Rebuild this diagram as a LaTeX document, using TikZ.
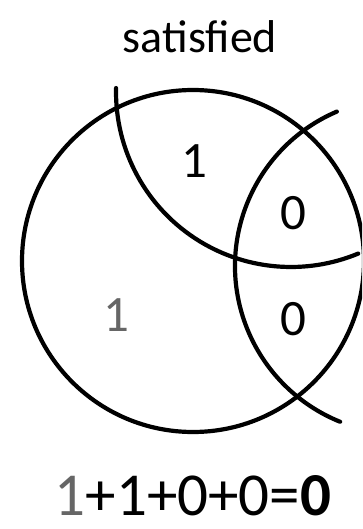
\documentclass[tikz,border=0pt]{standalone}
\usepackage{fontspec}
\setmainfont{Carlito}
\definecolor{softgray}{HTML}{666666}
\begin{document}
\begin{tikzpicture}[x=1pt,y=-1pt,
  arcline/.style={line width=4.2pt, black, line cap=round},
  title/.style={anchor=base, inner sep=0pt, font=\fontsize{46}{52}\selectfont},
  digit/.style={anchor=base, inner sep=0pt, font=\fontsize{51}{56}\selectfont},
  eqn/.style={anchor=base, inner sep=0pt, font=\fontsize{61}{68}\selectfont}]
\useasboundingbox (0,0) rectangle (362,529);
\begin{scope}
\clip (0,0) rectangle (362,529);
% big circle
\coordinate (cbig) at (193,261);
\draw[arcline] (cbig) circle[radius=171];
% upper arc
\coordinate (cup) at (291,92);
\draw[arcline] (cup) ++(181.3:175) arc[start angle=181.3, end angle=67.4, radius=175];
% right arc
\coordinate (cright) at (403,266);
\draw[arcline] (cright) ++(246.8:168) arc[start angle=246.8, end angle=112, radius=168];
\end{scope}
\node[title] (t) at (200,53) {satisfied};
\node[digit] (d1) at (194,178) {1};
\node[digit] (d2) at (293,229) {0};
\node[digit, text=softgray] (d3) at (116,331) {1};
\node[digit] (d4) at (293,335) {0};
\node[eqn] (eq) at (193,515) {{\color{softgray}1}+1+0+0=\textbf{0}};
\end{tikzpicture}
\end{document}
